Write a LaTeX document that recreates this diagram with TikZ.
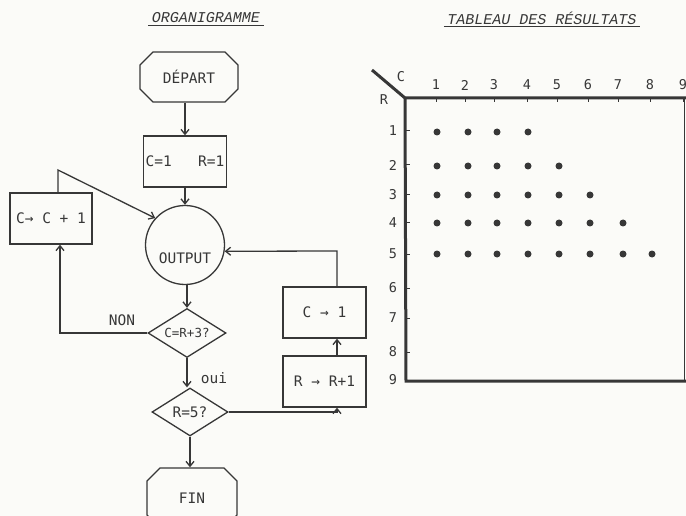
\documentclass[tikz,border=0pt]{standalone}
\usepackage{fontspec}
\usetikzlibrary{shapes.geometric,shapes.misc,arrows.meta}
\newfontfamily\labfont{DejaVu Sans Mono}
\newfontfamily\titfont{Liberation Mono}
\definecolor{ink}{RGB}{55,55,55}
\definecolor{paper}{RGB}{251,251,248}
\tikzset{
  lab/.style={font=\labfont\fontsize{14.5}{16}\selectfont, text=ink},
  procbox/.style={draw=ink, line width=1.3pt, rectangle, inner sep=0pt, lab},
  termbox/.style={draw=ink, line width=1.3pt, chamfered rectangle, chamfered rectangle xsep=4pt, chamfered rectangle ysep=9pt, inner sep=0pt, lab},
  decision/.style={draw=ink, line width=1.3pt, diamond, aspect=1.6, inner sep=0pt, lab},
  conn/.style={draw=ink, line width=1.3pt},
  arr/.style={conn, -{Straight Barb[length=5pt,width=8pt]}},
  heavy/.style={draw=ink, line width=3pt},
  axlab/.style={font=\labfont\fontsize{13.5}{15}\selectfont, text=ink},
  ttl/.style={font=\titfont\itshape\fontsize{15}{17}\selectfont, text=ink},
  dot/.style={fill=ink, circle, inner sep=0pt, minimum size=7pt}
}
\begin{document}
\begin{tikzpicture}[x=1pt,y=-1pt]
\clip (0,0) rectangle (686,516);
\fill[paper] (0,0) rectangle (686,516);

% titles
\node[ttl] (t1) at (206,18) {ORGANIGRAMME};
\draw[ink, line width=0.8pt] (t1.south west) ++(0,-1) -- ([yshift=1pt]t1.south east);
\node[ttl] (t2) at (542,18) {TABLEAU DES RÉSULTATS};
\draw[ink, line width=0.8pt] (t2.south west) ++(0,-1) -- ([yshift=1pt]t2.south east);

% flowchart nodes
\node[termbox, minimum width=98pt, minimum height=50pt] (dep) at (189,77) {DÉPART};
\node[procbox, minimum width=83pt, minimum height=51pt] (init) at (185,161.5) {C=1\ \ \ R=1};
\node[draw=ink, line width=1.3pt, circle, minimum size=79pt, inner sep=0pt] (out) at (185,245) {};
\node[lab] (outtxt) at (185,258) {OUTPUT};
\node[procbox, minimum width=82pt, minimum height=51pt] (cc) at (51,218.5) {C→ C + 1};
\node[decision, minimum width=78pt, minimum height=49pt, font=\labfont\fontsize{12.5}{14}\selectfont] (d1) at (187,333) {C=R+3?};
\node[decision, minimum width=76pt, minimum height=48pt] (d2) at (190,412) {R=5?};
\node[termbox, minimum width=90pt, minimum height=60pt] (fin) at (192,498) {FIN};
\node[procbox, minimum width=83pt, minimum height=51pt] (c1) at (324.5,312.5) {C → 1};
\node[procbox, minimum width=83pt, minimum height=51pt] (rr) at (324.5,381.5) {R → R+1};

% labels
\node[lab] (non) at (122,320) {NON};
\node[lab] (oui) at (214,378) {oui};

% connectors
\coordinate (k1) at (60,0);
\coordinate (k2) at (58,170);
\coordinate (k3) at (337,0);
\coordinate (k4) at (337,251);
\draw[arr] (init.north |- dep.south) -- (init.north);
\draw[arr] (init.south) -- (out.north);
\draw[arr] (out.south -| d1.north) -- (d1.north);
\draw[arr] (d1.south) -- (d2.north -| d1.south);
\draw[arr] (d2.south) -- (fin.north -| d2.south);
\draw[arr] (d1.west) -| (cc.south -| k1);
\draw[arr] (cc.north -| k2) -- (k2) -- (out.138);
\draw[arr] (d2.east) -| (rr.south -| k3);
\draw[arr] (rr.north -| k3) -- (c1.south -| k3);
\draw[arr] (c1.north -| k4) -- (k4) -- (out.-9);

% table frame
\draw[heavy] (372,70) -- (405,98) -- (686,98);
\draw[heavy] (405,98) -- (406,381) -- (686,381);
\draw[ink, line width=1pt] (684,98) -- (684,381);
\node[axlab] (lc) at (401,77) {C};
\node[axlab] (lr) at (384,100) {R};

% column labels and ticks
\foreach \n/\x in {1/436,2/465,3/494,4/527,5/557,6/588,7/618,8/650,9/683}{
  \node[axlab] (col\n) at (\x,85) {\n};
  \draw[ink, line width=1pt] (\x,98) -- (\x,102);
}
% row labels and ticks
\foreach \n/\y in {1/131,2/165,3/195,4/223,5/254,6/288,7/318,8/352,9/380}{
  \node[axlab] (row\n) at (393,\y) {\n};
  \draw[ink, line width=1pt] (406,\y) -- (410,\y);
}
% dots
\foreach \r/\y in {1/132,2/166,3/195,4/223,5/254}{
  \foreach \c/\x in {1/437,2/468,3/497,4/528,5/559,6/590,7/623,8/652}{
    \pgfmathtruncatemacro{\lim}{\r+3}
    \ifnum\c>\lim\else
      \node[dot] (p\r\c) at (\x,\y) {};
    \fi
  }
}
\end{tikzpicture}
\end{document}
